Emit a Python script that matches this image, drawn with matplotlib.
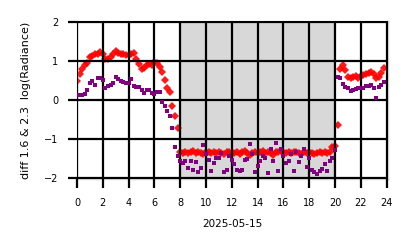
import numpy as np
import matplotlib
matplotlib.use("Agg")
import matplotlib.pyplot as plt

# time of day (hours), one sample every 12 minutes
hours = np.round(np.arange(0, 24, 0.2), 1)

# night / day / night shown as red diamonds
red_vals = [
    0.50, 0.66, 0.80, 0.90, 0.96, 1.10, 1.14, 1.18, 1.20, 1.25,
    1.20, 1.05, 1.05, 1.10, 1.20, 1.27, 1.22, 1.20, 1.18, 1.17,
    1.15, 1.20, 1.22, 1.07, 0.93, 0.80, 0.82, 0.90, 0.92, 0.90,
    0.97, 0.95, 0.85, 0.73, 0.52, 0.32, 0.20, -0.15, -0.42, -0.72,
    -1.34, -1.36, -1.33, -1.37, -1.35, -1.32, -1.36, -1.34, -1.36, -1.38,
    -1.35, -1.34, -1.37, -1.35, -1.36, -1.33, -1.36, -1.38, -1.35, -1.34,
    -1.37, -1.36, -1.35, -1.38, -1.35, -1.32, -1.36, -1.41, -1.36, -1.33,
    -1.37, -1.35, -1.32, -1.36, -1.34, -1.37, -1.42, -1.35, -1.33, -1.32,
    -1.35, -1.37, -1.34, -1.36, -1.35, -1.33, -1.36, -1.38, -1.35, -1.37,
    -1.35, -1.37, -1.39, -1.36, -1.35, -1.37, -1.35, -1.36, -1.34, -1.22,
    -1.18, -0.65, 0.80, 0.90, 0.78, 0.60, 0.57, 0.60, 0.62, 0.58,
    0.62, 0.64, 0.68, 0.70, 0.72, 0.66, 0.57, 0.60, 0.70, 0.82,
]

purple_vals = [
    0.12, 0.12, 0.14, 0.16, 0.25, 0.43, 0.50, 0.40, 0.56, 0.57,
    0.52, 0.30, 0.35, 0.38, 0.44, 0.60, 0.54, 0.50, 0.46, 0.44,
    0.44, 0.55, 0.36, 0.34, 0.33, 0.26, 0.19, 0.26, 0.25, 0.19,
    0.15, 0.22, 0.22, -0.05, -0.15, -0.28, -0.41, -0.72, -1.20, -1.45,
    -1.56, -1.62, -1.56, -1.75, -1.58, -1.80, -1.60, -1.85, -1.75, -1.15,
    -1.40, -1.54, -1.84, -1.61, -1.50, -1.50, -1.37, -1.86, -1.80, -1.45,
    -1.54, -1.65, -1.80, -1.84, -1.80, -1.54, -1.53, -1.14, -1.40, -1.85,
    -1.70, -1.56, -1.45, -1.50, -1.87, -1.26, -1.56, -1.11, -1.82, -1.26,
    -1.45, -1.62, -1.56, -1.40, -1.82, -1.35, -1.60, -1.45, -1.26, -1.73,
    -1.50, -1.81, -1.85, -1.90, -1.83, -1.78, -1.64, -1.83, -1.56, -1.50,
    -1.28, 0.60, 0.56, 0.42, 0.34, 0.30, 0.23, 0.25, 0.28, 0.30,
    0.30, 0.32, 0.35, 0.37, 0.38, 0.30, 0.06, 0.34, 0.40, 0.47,
]

day_start, day_end = 8.0, 19.95

fig = plt.figure(figsize=(4.14, 2.48), dpi=100)
ax = fig.add_axes([0.186, 0.279, 0.751, 0.635])

ax.axvspan(day_start, day_end, facecolor='gray', edgecolor='gray', alpha=0.3, zorder=0)
ax.plot(hours, red_vals, linestyle='none', marker='D', ms=3.6, color='red',
        alpha=0.9, markeredgewidth=0, zorder=2)
ax.plot(hours, purple_vals, linestyle='none', marker='s', ms=2.5, color='purple',
        markeredgewidth=0, zorder=3)

ax.set_xlim(0, 24.1)
ax.set_ylim(-2.03, 2.03)
ax.set_xticks(np.arange(0, 25, 2))
ax.set_yticks([-2, -1, 0, 1, 2])
ax.grid(True, color='black', linewidth=1.6, zorder=4)
ax.set_axisbelow(False)
ax.tick_params(direction='out', length=6.5, width=1.6, labelsize=7, color='black')
ax.tick_params(axis='x', pad=7.5)
ax.tick_params(axis='y', pad=7)
for s in ax.spines.values():
    s.set_color('#cccccc')
    s.set_linewidth(1.0)

ax.set_xlabel('2025-05-15', fontsize=7.5, labelpad=8)
ax.set_ylabel('diff 1.6 & 2.3  log(Radiance)', fontsize=8, labelpad=9)

fig.savefig('out.png', dpi=100)
